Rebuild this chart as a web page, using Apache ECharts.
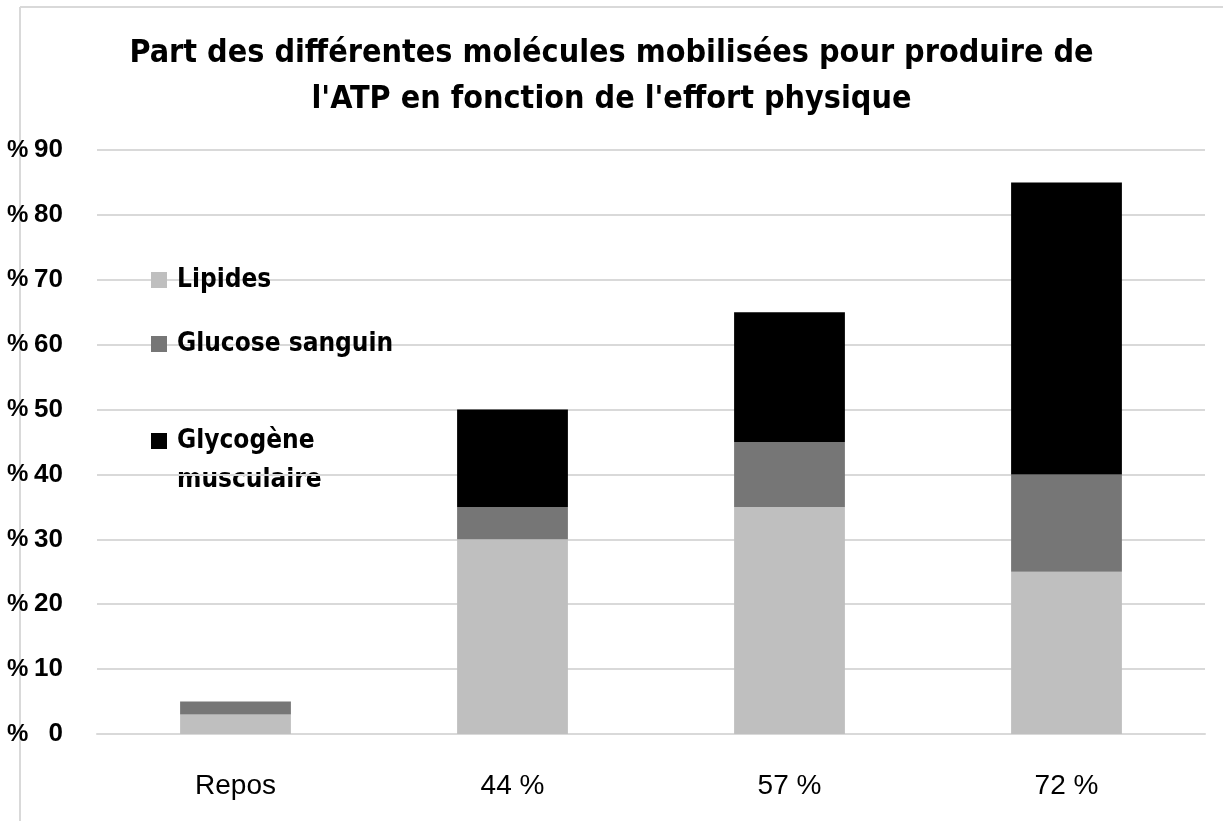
<!DOCTYPE html>
<html><head><meta charset="utf-8">
<script src="https://cdn.jsdelivr.net/npm/echarts@6/dist/echarts.min.js"></script>
<style>html,body{margin:0;padding:0;background:#fff}#c{width:1223px;height:821px}</style>
</head><body><div id="c"></div>
<script>
const categories = ['Repos', '44 %', '57 %', '72 %'];
const lipides = [3, 30, 35, 25];
const glucose = [2, 5, 10, 15];
const glycogene = [0, 15, 20, 45];
const yTicks = [0, 10, 20, 30, 40, 50, 60, 70, 80, 90];
const seriesNames = ['Lipides', 'Glucose sanguin', 'Glycogène musculaire'];
const colors = ['#bfbfbf', '#767676', '#000000'];

const condensed = "'DejaVu Sans Condensed', 'Liberation Sans Narrow', 'Roboto', sans-serif";
const arial = "'Liberation Sans', Arial, sans-serif";
const chart = echarts.init(document.getElementById('c'));
const legendText = {fontFamily: condensed, fontWeight: 'bold', fontSize: 26, color: '#000', padding: [0, 0, 0, 5]};
function mkLegend(name, top, label) {
  return {
    orient: 'vertical', left: 151, top: top, padding: 0, data: [name], itemWidth: 16, itemHeight: 16,
    icon: 'rect', selectedMode: false, textStyle: legendText,
    formatter: () => label
  };
}
chart.setOption({
  animation: false,
  color: colors,
  title: {
    text: "Part des différentes molécules mobilisées pour produire de\nl'ATP en fonction de l'effort physique",
    left: 'center', top: 26,
    textStyle: {fontFamily: condensed, fontWeight: 'bold', fontSize: 32, lineHeight: 46, color: '#000'}
  },
  legend: [
    mkLegend(seriesNames[0], 267, 'Lipides'),
    mkLegend(seriesNames[1], 331, 'Glucose sanguin'),
    mkLegend(seriesNames[2], 428, 'Glycogène')
  ],
  graphic: [
    {type: 'line', shape: {x1: 20, y1: 7, x2: 1223, y2: 7}, style: {stroke: '#d9d9d9', lineWidth: 2}},
    {type: 'line', shape: {x1: 20, y1: 7, x2: 20, y2: 821}, style: {stroke: '#d9d9d9', lineWidth: 2}},
    {type: 'text', left: 177, top: 467, style: {text: 'musculaire', font: "bold 26px " + condensed, fill: '#000'}}
  ],
  grid: {left: 97, right: 18, top: 150, bottom: 87, containLabel: false},
  xAxis: {
    type: 'category', data: categories,
    axisLine: {lineStyle: {color: '#d9d9d9', width: 2}},
    axisTick: {show: false},
    axisLabel: {margin: 38, fontFamily: arial, fontSize: 28, color: '#000'}
  },
  yAxis: {
    type: 'value', min: yTicks[0], max: yTicks[yTicks.length - 1], interval: 10,
    axisLine: {show: false}, axisTick: {show: false},
    splitLine: {lineStyle: {color: '#d9d9d9', width: 2}},
    axisLabel: {
      margin: 34,
      formatter: v => '{p|%}{n|' + v + '}',
      rich: {
        p: {fontFamily: arial, fontWeight: 'bold', fontSize: 24, color: '#000', width: 26, align: 'left'},
        n: {fontFamily: arial, fontWeight: 'bold', fontSize: 26, color: '#000', width: 30, align: 'right'}
      }
    }
  },
  series: [lipides, glucose, glycogene].map((d, i) => ({
    name: seriesNames[i], type: 'bar', stack: 'total', data: d, barWidth: '40%',
    itemStyle: {color: colors[i]}
  }))
});
</script></body></html>
